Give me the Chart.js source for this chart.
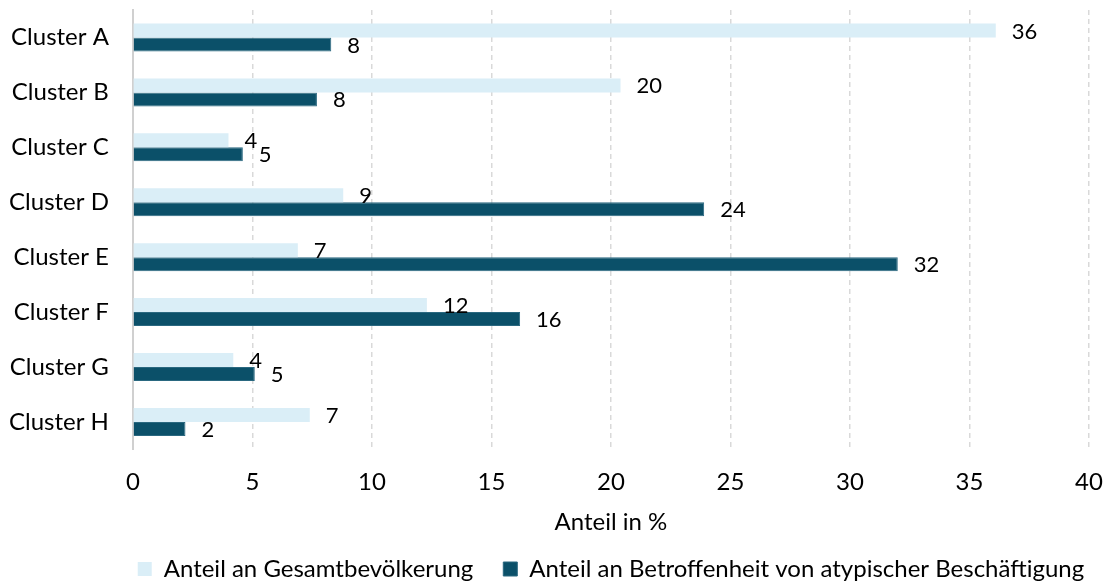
<!DOCTYPE html>
<html lang="de">
<head>
  <meta charset="UTF-8" />
  <title>Cluster-Anteile</title>
  <script src="https://cdn.jsdelivr.net/npm/chart.js"></script>
  <style>
    html, body { margin: 0; padding: 0; background: #fff; }
    .wrap { width: 1107px; height: 584px; }
  </style>
</head>
<body>
  <div class="wrap"><canvas id="chart"></canvas></div>

  <script>
    const clusters = ['Cluster A', 'Cluster B', 'Cluster C', 'Cluster D', 'Cluster E', 'Cluster F', 'Cluster G', 'Cluster H'];
    const gesamtbevoelkerung = [36.1, 20.4, 4.0, 8.8, 6.9, 12.3, 4.2, 7.4];
    const atypisch = [8.3, 7.7, 4.6, 23.9, 32.0, 16.2, 5.1, 2.2];
    const xTicks = [0, 5, 10, 15, 20, 25, 30, 35, 40];

    const FONT = 'Lato, "Open Sans", sans-serif';

    // labels at the end of each bar
    const barLabels = {
      id: 'barLabels',
      afterDatasetsDraw(chart) {
        const ctx = chart.ctx;
        ctx.save();
        ctx.font = '22px ' + FONT;
        ctx.fillStyle = '#000';
        ctx.textBaseline = 'middle';
        chart.data.datasets.forEach((ds, i) => {
          chart.getDatasetMeta(i).data.forEach((bar, j) => {
            ctx.fillText(Math.round(ds.data[j]), bar.x + 16, bar.y + 1);
          });
        });
        ctx.restore();
      }
    };

    // legend is centred under the plot area, not the whole canvas
    const legendShift = {
      id: 'legendShift',
      afterLayout(chart) {
        const lg = chart.legend;
        const dx = (chart.chartArea.left + chart.chartArea.right) / 2 - (lg.left + lg.right) / 2;
        lg.left += dx;
        lg.right += dx;
        lg.top -= 5;
        lg.bottom -= 5;
      }
    };

    new Chart(document.getElementById('chart'), {
      type: 'bar',
      data: {
        labels: clusters,
        datasets: [
          {
            label: 'Anteil an Gesamtbevölkerung',
            data: gesamtbevoelkerung,
            backgroundColor: '#daeef7',
            categoryPercentage: 0.51,
            barPercentage: 1.0
          },
          {
            label: 'Anteil an Betroffenheit von atypischer Beschäftigung',
            data: atypisch,
            backgroundColor: '#0b5069',
            borderColor: '#2a6880',
            borderWidth: 1,
            categoryPercentage: 0.51,
            barPercentage: 1.0
          }
        ]
      },
      options: {
        indexAxis: 'y',
        responsive: true,
        maintainAspectRatio: false,
        animation: false,
        layout: { padding: { top: 10, right: 18, left: -7, bottom: -12 } },
        scales: {
          x: {
            min: 0,
            max: 40,
            afterBuildTicks(axis) { axis.ticks = xTicks.map(v => ({ value: v })); },
            afterFit(axis) { axis.paddingLeft = 0; axis.paddingRight = 0; },
            grid: { color: '#d9d9d9', lineWidth: 1.5, drawTicks: false },
            border: { display: false, dash: [5, 4] },
            ticks: { color: '#000', font: { family: FONT, size: 24 }, padding: 18 },
            title: { display: true, text: 'Anteil in %', color: '#000', font: { family: FONT, size: 24 }, padding: { top: -6, bottom: -5 } }
          },
          y: {
            afterFit(axis) { axis.paddingTop = 0; axis.paddingBottom = 0; },
            grid: { display: false },
            border: { display: true, color: '#d0d0d0', width: 2 },
            ticks: { color: '#000', font: { family: FONT, size: 24 }, padding: 16 }
          }
        },
        plugins: {
          legend: {
            position: 'bottom',
            labels: {
              color: '#000',
              font: { family: FONT, size: 24 },
              boxWidth: 14,
              boxHeight: 14,
              padding: 30
            }
          },
          tooltip: { enabled: false }
        }
      },
      plugins: [barLabels, legendShift]
    });
  </script>
</body>
</html>
